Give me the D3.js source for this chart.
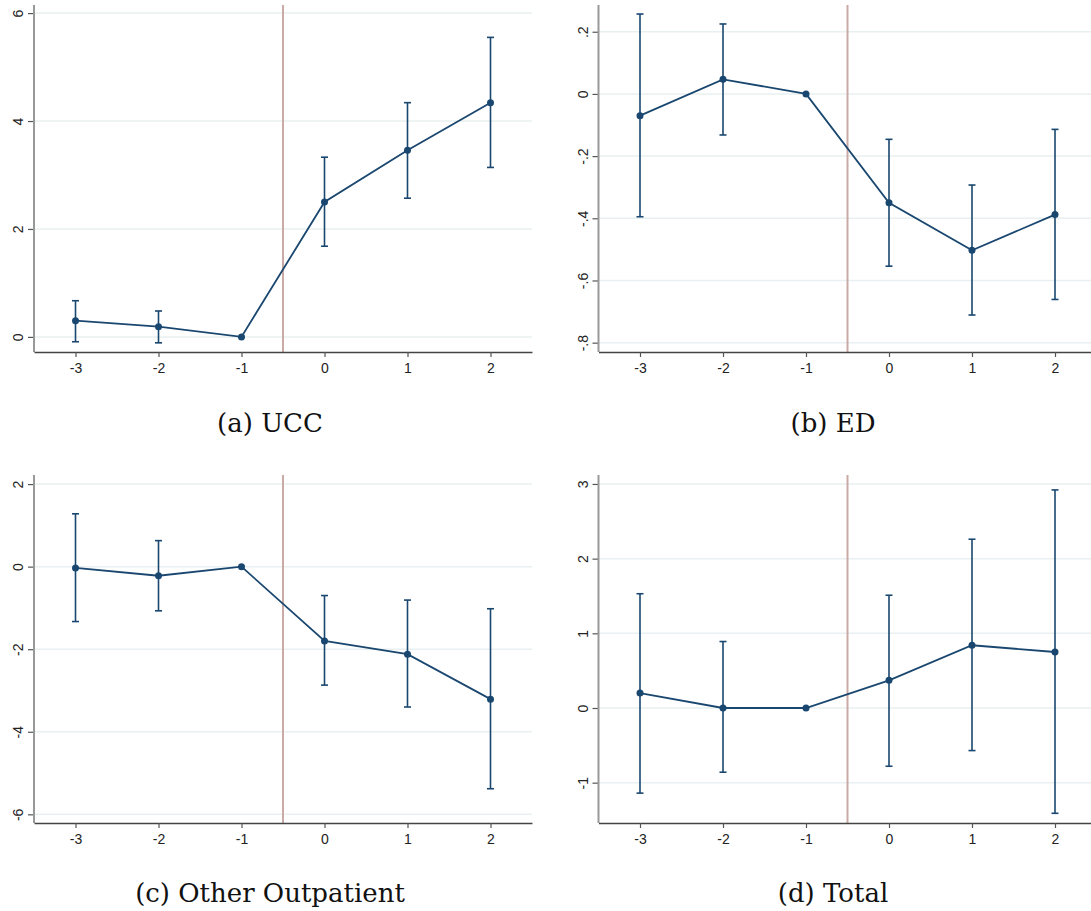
<!DOCTYPE html>
<html lang="en">
<head>
<meta charset="UTF-8">
<title>Event study: UCC, ED, Other Outpatient, Total</title>
<script src="https://d3js.org/d3.v7.min.js"></script>
<style>
  body { margin: 0; background: white; }
  svg { display: block; }
</style>
</head>
<body>
<svg id="chart" width="1091" height="911"></svg>
<script>
// event time (periods relative to treatment)
const periods = [-3, -2, -1, 0, 1, 2];

// (a) UCC
const uccCoef = [0.30, 0.19, 0, 2.50, 3.46, 4.34];
const uccLo   = [-0.09, -0.11, 0, 1.68, 2.57, 3.14];
const uccHi   = [0.67, 0.48, 0, 3.33, 4.34, 5.55];
const uccTicks = [0, 2, 4, 6];
const uccTickLabels = ["0", "2", "4", "6"];

// (b) ED
const edCoef = [-0.07, 0.047, 0, -0.35, -0.503, -0.388];
const edLo   = [-0.395, -0.132, 0, -0.554, -0.711, -0.661];
const edHi   = [0.257, 0.225, 0, -0.146, -0.293, -0.114];
const edTicks = [0.2, 0, -0.2, -0.4, -0.6, -0.8];
const edTickLabels = [".2", "0", "-.2", "-.4", "-.6", "-.8"];

// (c) Other Outpatient
const otherCoef = [-0.03, -0.22, 0, -1.80, -2.12, -3.21];
const otherLo   = [-1.33, -1.07, 0, -2.87, -3.40, -5.38];
const otherHi   = [1.28, 0.63, 0, -0.70, -0.81, -1.02];
const otherTicks = [2, 0, -2, -4, -6];
const otherTickLabels = ["2", "0", "-2", "-4", "-6"];

// (d) Total
const totalCoef = [0.20, 0.0, 0, 0.37, 0.84, 0.75];
const totalLo   = [-1.14, -0.86, 0, -0.78, -0.57, -1.41];
const totalHi   = [1.53, 0.89, 0, 1.51, 2.26, 2.92];
const totalTicks = [3, 2, 1, 0, -1];
const totalTickLabels = ["3", "2", "1", "0", "-1"];

const captions = ["(a) UCC", "(b) ED", "(c) Other Outpatient", "(d) Total"];

const xTicks = [-3, -2, -1, 0, 1, 2];
const xTickLabels = ["-3", "-2", "-1", "0", "1", "2"];
const treatLine = -0.5;

// layout of the 2x2 grid
const panels = [
  { coef: uccCoef, lo: uccLo, hi: uccHi, ticks: uccTicks, labels: uccTickLabels,
    yDomain: [-0.28, 6.15], left: 34, top: 5, bottom: 352, capX: 270, capY: 432 },
  { coef: edCoef, lo: edLo, hi: edHi, ticks: edTicks, labels: edTickLabels,
    yDomain: [-0.83, 0.286], left: 598.5, top: 5, bottom: 352, capX: 833, capY: 432 },
  { coef: otherCoef, lo: otherLo, hi: otherHi, ticks: otherTicks, labels: otherTickLabels,
    yDomain: [-6.21, 2.22], left: 34, top: 475, bottom: 823, capX: 270, capY: 902 },
  { coef: totalCoef, lo: totalLo, hi: totalHi, ticks: totalTicks, labels: totalTickLabels,
    yDomain: [-1.54, 3.12], left: 598.5, top: 475, bottom: 823, capX: 833, capY: 902 }
];
const plotW = 498;

const navy = "#1a476f";
const sans = "Liberation Sans, Arial, sans-serif";
const svg = d3.select("#chart");
svg.append("rect").attr("width", 1091).attr("height", 911).attr("fill", "white");

panels.forEach((p, i) => {
  const x = d3.scaleLinear().domain([-3.5, 2.5]).range([p.left, p.left + plotW]);
  const y = d3.scaleLinear().domain(p.yDomain).range([p.bottom, p.top]);
  const g = svg.append("g");

  // grid lines
  g.selectAll(".grid").data(p.ticks).join("line")
    .attr("x1", p.left).attr("x2", p.left + plotW)
    .attr("y1", d => y(d)).attr("y2", d => y(d))
    .attr("stroke", "#e9f0f1").attr("stroke-width", 1.5);

  // treatment line
  g.append("line")
    .attr("x1", x(treatLine)).attr("x2", x(treatLine))
    .attr("y1", p.top).attr("y2", p.bottom)
    .attr("stroke", "#c9aaa6").attr("stroke-width", 2);

  // y axis
  const yAxis = d3.axisLeft(y).tickValues(p.ticks)
    .tickFormat((d, k) => p.labels[k]).tickSize(6).tickSizeOuter(0);
  const ya = g.append("g").attr("transform", `translate(${p.left},0)`).call(yAxis);
  ya.attr("font-size", 14).attr("font-family", sans);
  ya.select(".domain").remove();
  ya.selectAll(".tick line").attr("stroke", "#555").attr("stroke-width", 1.2);
  ya.selectAll(".tick text")
    .attr("x", null).attr("dy", null)
    .attr("transform", "translate(-11,0) rotate(-90)")
    .attr("text-anchor", "middle")
    .attr("fill", "#222");
  g.append("line")
    .attr("x1", p.left).attr("x2", p.left)
    .attr("y1", p.top).attr("y2", p.bottom)
    .attr("stroke", "#999").attr("stroke-width", 2);

  // x axis
  const xAxis = d3.axisBottom(x).tickValues(xTicks)
    .tickFormat((d, k) => xTickLabels[k]).tickSize(5).tickSizeOuter(0);
  const xa = g.append("g").attr("transform", `translate(0,${p.bottom})`).call(xAxis);
  xa.attr("font-size", 14).attr("font-family", sans);
  xa.select(".domain").attr("stroke", "#444").attr("stroke-width", 1.5);
  xa.selectAll(".tick line").attr("stroke", "#555").attr("stroke-width", 1.2);
  xa.selectAll(".tick text")
    .attr("y", 11).attr("dy", "0.71em")
    .attr("fill", "#222");

  const pts = periods.map((t, k) => ({ t, c: p.coef[k], lo: p.lo[k], hi: p.hi[k] }));

  // confidence intervals
  const ci = g.selectAll(".ci").data(pts.filter(d => d.hi !== d.lo)).join("g");
  ci.append("line")
    .attr("x1", d => x(d.t)).attr("x2", d => x(d.t))
    .attr("y1", d => y(d.lo)).attr("y2", d => y(d.hi))
    .attr("stroke", navy).attr("stroke-width", 1.6);
  ["lo", "hi"].forEach(k => {
    ci.append("line")
      .attr("x1", d => x(d.t) - 3.5).attr("x2", d => x(d.t) + 3.5)
      .attr("y1", d => y(d[k])).attr("y2", d => y(d[k]))
      .attr("stroke", navy).attr("stroke-width", 1.6);
  });

  // connected coefficients
  g.append("path").datum(pts)
    .attr("d", d3.line().x(d => x(d.t)).y(d => y(d.c)))
    .attr("fill", "none").attr("stroke", navy).attr("stroke-width", 1.8);
  g.selectAll(".pt").data(pts).join("circle")
    .attr("cx", d => x(d.t)).attr("cy", d => y(d.c)).attr("r", 3.5)
    .attr("fill", navy);

  // caption
  svg.append("text")
    .attr("x", p.capX).attr("y", p.capY)
    .attr("text-anchor", "middle")
    .attr("font-family", "DejaVu Serif, serif")
    .attr("font-size", 26).attr("fill", "#111")
    .text(captions[i]);
});
</script>
</body>
</html>
